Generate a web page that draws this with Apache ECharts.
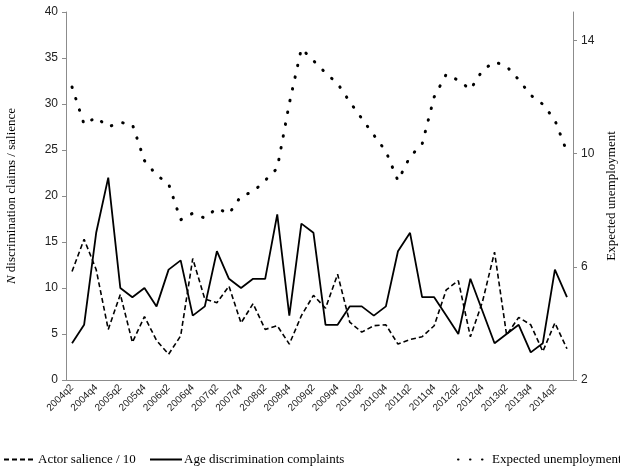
<!DOCTYPE html>
<html>
<head>
<meta charset="utf-8">
<script src="https://cdn.jsdelivr.net/npm/echarts@6/dist/echarts.min.js"></script>
<style>
  html, body { margin: 0; padding: 0; background: #fff; }
  #chart { width: 620px; height: 471px; }
</style>
</head>
<body>
<div id="chart"></div>
<script>
var quarters = [
    '2004q2','2004q3','2004q4','2005q1','2005q2','2005q3','2005q4','2006q1','2006q2','2006q3',
    '2006q4','2007q1','2007q2','2007q3','2007q4','2008q1','2008q2','2008q3','2008q4','2009q1',
    '2009q2','2009q3','2009q4','2010q1','2010q2','2010q3','2010q4','2011q1','2011q2','2011q3',
    '2011q4','2012q1','2012q2','2012q3','2012q4','2013q1','2013q2','2013q3','2013q4','2014q1',
    '2014q2','2014q3'
];
var salience = [11.8,15.3,12.0,5.5,9.3,4.1,6.9,4.3,2.8,4.8,
    13.2,8.8,8.4,10.2,6.2,8.3,5.5,5.9,3.9,7.0,
    9.2,7.8,11.5,6.3,5.2,5.9,6.0,3.9,4.4,4.7,
    5.9,9.8,10.8,4.7,8.5,13.9,4.9,6.8,6.0,3.1,
    6.2,3.4];
var complaints = [4,6,16,22,10,9,10,8,12,13,
    7,8,14,11,10,11,11,18,7,17,
    16,6,6,8,8,7,8,14,16,9,
    9,7,5,11,7.5,4,5,6,3,4,
    12,9];
var unemployment = [12.35,11.03,11.28,10.94,11.1,11.03,9.75,9.24,8.93,7.66,
    7.89,7.72,8.07,7.87,8.5,8.65,9.05,9.48,11.77,13.71,
    13.28,12.85,12.47,11.83,11.24,10.65,10.08,9.04,9.89,10.33,
    12.0,12.8,12.59,12.26,12.94,13.24,13.08,12.61,12.06,11.74,
    11.18,10.06];

var dom = document.getElementById('chart');
var myChart = echarts.init(dom, null, { renderer: 'canvas' });

var axisGrey = '#8c8c8c';
var serif = '"Liberation Serif", "DejaVu Serif", serif';

// one legend per item so each can sit where the reference has it
function legendAt(name, left) {
    return {
        data: [name],
        left: left,
        bottom: 5,
        padding: 0,
        itemWidth: 32,
        itemHeight: 10,
        itemGap: 0,
        itemStyle: { opacity: 0 },
        textStyle: { fontFamily: serif, fontSize: 13, color: '#000', padding: [0, 0, 0, -3] }
    };
}

var option = {
    animation: false,
    backgroundColor: '#fff',
    grid: { left: 66, right: 47, top: 12, bottom: 91, outerBoundsMode: 'none' },
    legend: [
        legendAt('Actor salience / 10', 3),
        legendAt('Age discrimination complaints', 149),
        legendAt('Expected unemployment', 457)
    ],
    xAxis: {
        type: 'category',
        data: quarters,
        boundaryGap: true,
        axisLine: { lineStyle: { color: axisGrey } },
        axisTick: { interval: 0, length: 4, lineStyle: { color: axisGrey } },
        axisLabel: {
            interval: 1,
            rotate: 45,
            fontSize: 10,
            fontFamily: 'Liberation Sans',
            color: '#222',
            margin: 6
        }
    },
    yAxis: [
        {
            type: 'value',
            min: 0, max: 40, interval: 5,
            name: '{i|N} discrimination claims / salience',
            nameLocation: 'middle',
            nameGap: 48,
            nameTextStyle: {
                fontFamily: serif, fontSize: 13, color: '#000',
                rich: { i: { fontFamily: serif, fontStyle: 'italic', fontSize: 13 } }
            },
            splitLine: { show: false },
            axisLine: { show: true, lineStyle: { color: axisGrey } },
            axisTick: { show: true, length: 4, lineStyle: { color: axisGrey } },
            axisLabel: { fontSize: 12, fontFamily: 'Liberation Sans', color: '#222', margin: 8 }
        },
        {
            type: 'value',
            position: 'right',
            min: 2, max: 15, interval: 4,
            name: 'Expected unemployment',
            nameLocation: 'middle',
            nameRotate: 90,
            nameGap: 30,
            nameTextStyle: { fontFamily: serif, fontSize: 13, color: '#000' },
            splitLine: { show: false },
            axisLine: { show: true, lineStyle: { color: axisGrey } },
            axisTick: { show: true, length: 4, lineStyle: { color: axisGrey } },
            axisLabel: { fontSize: 12, fontFamily: 'Liberation Sans', color: '#222', margin: 8, showMaxLabel: false }
        }
    ],
    series: [
        {
            name: 'Actor salience / 10',
            type: 'line',
            data: salience,
            symbol: 'none',
            itemStyle: { color: '#000' },
            lineStyle: { color: '#000', width: 1.6, type: [5, 3] }
        },
        {
            name: 'Age discrimination complaints',
            type: 'line',
            data: complaints,
            symbol: 'none',
            itemStyle: { color: '#000' },
            lineStyle: { color: '#000', width: 1.8 }
        },
        {
            name: 'Expected unemployment',
            type: 'line',
            yAxisIndex: 1,
            data: unemployment,
            symbol: 'none',
            itemStyle: { color: '#000' },
            lineStyle: { color: '#000', width: 3, type: [0.5, 11.5], cap: 'round' }
        }
    ]
};
myChart.setOption(option);
</script>
</body>
</html>
